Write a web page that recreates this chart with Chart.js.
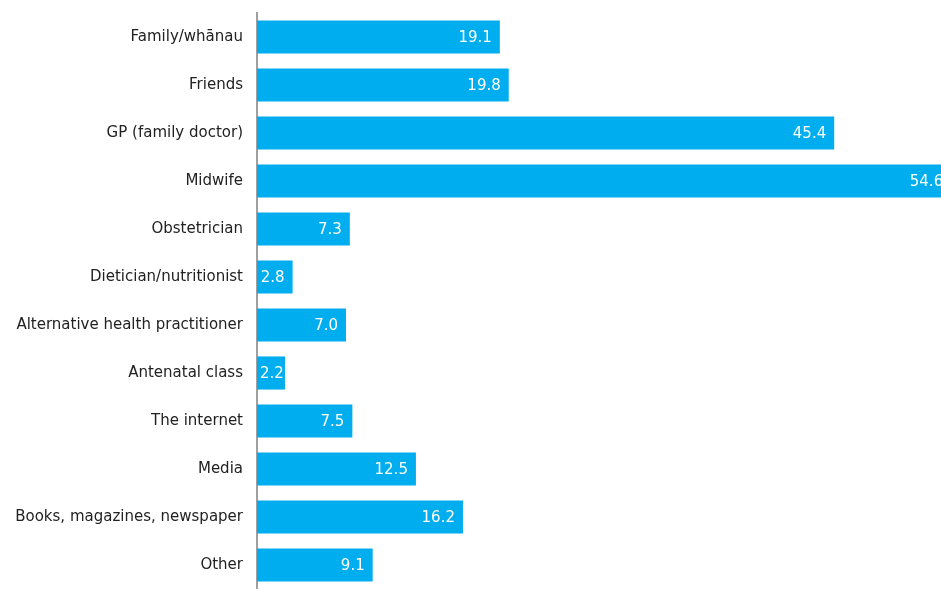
<!DOCTYPE html>
<html>
<head>
<meta charset="utf-8">
<script src="https://cdn.jsdelivr.net/npm/chart.js@4/dist/chart.umd.min.js"></script>
<style>
  html, body { margin: 0; padding: 0; background: #fff; overflow: hidden; }
</style>
</head>
<body>
<canvas id="chart" width="941" height="589"></canvas>
<script>
const categories = [
    "Family/whānau",
    "Friends",
    "GP (family doctor)",
    "Midwife",
    "Obstetrician",
    "Dietician/nutritionist",
    "Alternative health practitioner",
    "Antenatal class",
    "The internet",
    "Media",
    "Books, magazines, newspaper",
    "Other"
];
const values = [19.1, 19.8, 45.4, 54.6, 7.3, 2.8, 7.0, 2.2, 7.5, 12.5, 16.2, 9.1];

const FONT = "'DejaVu Sans', Verdana, sans-serif";

// white value text inside the end of each bar, kept from running past the bar's start
const barLabels = {
    id: "barLabels",
    afterDatasetsDraw(chart) {
        const ctx = chart.ctx;
        const meta = chart.getDatasetMeta(0);
        ctx.save();
        ctx.font = "15px " + FONT;
        ctx.fillStyle = "#ffffff";
        ctx.textAlign = "right";
        ctx.textBaseline = "middle";
        meta.data.forEach((bar, i) => {
            const txt = values[i].toFixed(1);
            const w = ctx.measureText(txt).width;
            const x = Math.max(bar.x - 8, bar.base + 3 + w);
            ctx.fillText(txt, x, bar.y + 1);
        });
        ctx.restore();
    }
};

const ctx = document.getElementById("chart").getContext("2d");
const chart = new Chart(ctx, {
    type: "bar",
    data: {
        labels: categories,
        datasets: [{
            data: values,
            backgroundColor: "#00adee",
            borderWidth: 0,
            categoryPercentage: 0.69,
            barPercentage: 1.0
        }]
    },
    options: {
        indexAxis: "y",
        responsive: false,
        animation: false,
        layout: { padding: { top: 13, right: 0, bottom: 0, left: 0 } },
        plugins: {
            legend: { display: false },
            tooltip: { enabled: false }
        },
        scales: {
            x: {
                display: false,
                min: 0,
                max: 53.8
            },
            y: {
                grid: { display: false, drawTicks: false },
                border: { display: true, color: "#a0a0a0", width: 2 },
                ticks: {
                    color: "#222222",
                    padding: 14,
                    font: { family: FONT, size: 15 }
                },
                afterFit(scale) {
                    scale.width = 257;
                    scale.paddingTop = 0;
                    scale.paddingBottom = 0;
                }
            }
        }
    },
    plugins: [barLabels]
});
</script>
</body>
</html>
